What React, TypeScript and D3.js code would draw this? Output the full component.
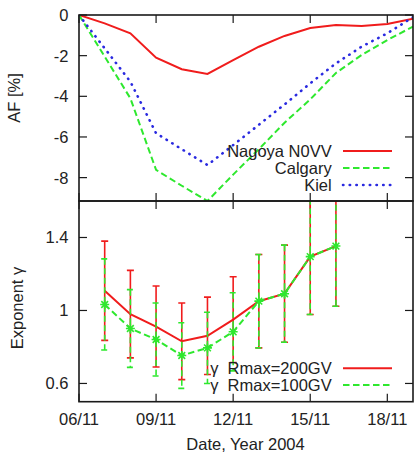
import React from "react";
import * as d3 from "d3";

// Daily decrease of count rate during the November 2004 Forbush event
const afDays = [6, 7, 8, 9, 10, 11, 12, 13, 14, 15, 16, 17, 18, 19];
const nagoyaAF = [0, -0.41, -0.9, -2.1, -2.67, -2.9, -2.22, -1.56, -1.03, -0.64, -0.49, -0.54, -0.44, -0.18];
const calgaryAF = [0, -2.05, -4.1, -7.62, -8.4, -9.15, -7.85, -6.6, -5.3, -4.15, -2.85, -1.97, -1.23, -0.57];
const kielAF = [0, -1.64, -3.28, -5.82, -6.6, -7.38, -6.4, -5.4, -4.4, -3.36, -2.38, -1.56, -0.9, -0.11];

// Spectral exponent with its uncertainty for two rigidity cut-offs
const gammaDays = [7, 8, 9, 10, 11, 12, 13, 14, 15, 16];
const gamma200 = [1.108, 0.98, 0.912, 0.831, 0.861, 0.95, 1.051, 1.092, 1.295, 1.353];
const err200 = [0.272, 0.24, 0.222, 0.21, 0.212, 0.235, 0.256, 0.266, 0.317, 0.33];
const gamma100 = [1.033, 0.901, 0.841, 0.753, 0.795, 0.883, 1.051, 1.092, 1.295, 1.353];
const err100 = [0.25, 0.213, 0.2, 0.18, 0.195, 0.214, 0.256, 0.266, 0.317, 0.33];

const dayTicks = [6, 9, 12, 15, 18];
const afTicks = [0, -2, -4, -6, -8];
const gammaTicks = [0.6, 1, 1.4];

const afSeries = [
  { name: "Nagoya N0VV", values: nagoyaAF, color: "#f01c1c", dash: "none", width: 2, cap: "butt" },
  { name: "Calgary", values: calgaryAF, color: "#2ee82e", dash: "6.5 3.5", width: 2, cap: "butt" },
  { name: "Kiel", values: kielAF, color: "#2a2ae0", dash: "0.4 6.3", width: 2.6, cap: "round" },
];

const FONT = "'Liberation Sans', Arial, sans-serif";
const FS = 16.5;
const AX = "#1a1a1a";
const TICK = 8;

const left = 79;
const right = 413;
const top1 = 15;
const mid = 201;
const bot2 = 401.7;

const dayLabel = (d: number) => `${String(d).padStart(2, "0")}/11`;

export default function App() {
  const x = d3.scaleLinear().domain([6, 19]).range([left, right]);
  const yAF = d3.scaleLinear().domain([-9.15, 0]).range([mid, top1]);
  const yG = d3.scaleLinear().domain([0.5, 1.6]).range([bot2, mid]);

  const afLine = (vals: number[]) =>
    d3.line<number>().x((_, i) => x(afDays[i])).y((v) => yAF(v))(vals) || "";
  const gLine = (vals: number[]) =>
    d3.line<number>().x((_, i) => x(gammaDays[i])).y((v) => yG(v))(vals) || "";

  const frame = (y0: number, y1: number, yTicks: number[], ys: (v: number) => number) => (
    <g>
      {dayTicks.map((d) => (
        <g key={"xt" + d}>
          <line x1={x(d)} x2={x(d)} y1={y0} y2={y0 + TICK} stroke={AX} strokeWidth={1.2} />
          <line x1={x(d)} x2={x(d)} y1={y1} y2={y1 - TICK} stroke={AX} strokeWidth={1.2} />
        </g>
      ))}
      {yTicks.map((t) => (
        <g key={"yt" + t}>
          <line x1={left} x2={left + TICK} y1={ys(t)} y2={ys(t)} stroke={AX} strokeWidth={1.2} />
          <line x1={right} x2={right - TICK} y1={ys(t)} y2={ys(t)} stroke={AX} strokeWidth={1.2} />
          <text x={68.5} y={ys(t)} dy="0.36em" textAnchor="end" fontSize={FS} fontFamily={FONT} fill="#222">
            {t === 0 ? "0" : String(t)}
          </text>
        </g>
      ))}
    </g>
  );

  const star = (cx: number, cy: number, r: number) =>
    `M${cx - r},${cy}H${cx + r}M${cx},${cy - r}V${cy + r}` +
    `M${cx - r * 0.75},${cy - r * 0.75}L${cx + r * 0.75},${cy + r * 0.75}` +
    `M${cx - r * 0.75},${cy + r * 0.75}L${cx + r * 0.75},${cy - r * 0.75}`;

  const errBars = (vals: number[], errs: number[], color: string, dash: string) =>
    vals.map((v, i) => {
      const cx = x(gammaDays[i]);
      const yt = yG(v + errs[i]);
      const yb = yG(v - errs[i]);
      return (
        <g key={i} stroke={color} strokeWidth={1.6} strokeDasharray={dash}>
          <line x1={cx} x2={cx} y1={yt} y2={yb} />
          <line x1={cx - 3.5} x2={cx + 3.5} y1={yt} y2={yt} />
          <line x1={cx - 3.5} x2={cx + 3.5} y1={yb} y2={yb} />
        </g>
      );
    });

  return (
    <svg
      width={419}
      height={455}
      style={{ position: "absolute", left: 0, top: 0, background: "#fff" }}
    >
      <defs>
        <clipPath id="clipTop">
          <rect x={left} y={top1} width={right - left} height={mid - top1} />
        </clipPath>
        <clipPath id="clipBot">
          <rect x={left} y={mid} width={right - left} height={bot2 - mid} />
        </clipPath>
      </defs>
      <rect width={419} height={455} fill="#fff" />

      {/* upper panel: AF */}
      {frame(top1, mid, afTicks, yAF)}
      <g clipPath="url(#clipTop)" fill="none">
        {afSeries.map((s) => (
          <path
            key={s.name}
            d={afLine(s.values)}
            stroke={s.color}
            strokeWidth={s.width}
            strokeDasharray={s.dash}
            strokeLinecap={s.cap as any}
          />
        ))}
      </g>
      {afSeries.map((s, i) => {
        const ly = 151 + i * 17;
        return (
          <g key={"lg" + s.name}>
            <text x={331.7} y={ly} dy="0.36em" textAnchor="end" fontSize={FS} fontFamily={FONT} fill="#222">
              {s.name}
            </text>
            <line
              x1={343}
              x2={392}
              y1={ly}
              y2={ly}
              stroke={s.color}
              strokeWidth={s.width}
              strokeDasharray={s.dash}
              strokeLinecap={s.cap as any}
            />
          </g>
        );
      })}

      {/* lower panel: spectral exponent */}
      {frame(mid, bot2, gammaTicks, yG)}
      <g clipPath="url(#clipBot)" fill="none">
        {errBars(gamma200, err200, "#f01c1c", "none")}
        <path d={gLine(gamma200)} stroke="#f01c1c" strokeWidth={2} />
        {errBars(gamma100, err100, "#2ee82e", "6 3.5")}
        <path d={gLine(gamma100)} stroke="#2ee82e" strokeWidth={2} strokeDasharray="6.5 3.5" />
        {gamma100.map((v, i) => (
          <path key={"m" + i} d={star(x(gammaDays[i]), yG(v), 4.5)} stroke="#2ee82e" strokeWidth={1.6} />
        ))}
      </g>
      {[
        { label: "γ  Rmax=200GV", color: "#f01c1c", dash: "none" },
        { label: "γ  Rmax=100GV", color: "#2ee82e", dash: "6.5 3.5" },
      ].map((s, i) => {
        const ly = 368.3 + i * 16.7;
        return (
          <g key={"lg2" + i}>
            <text
              x={331.7}
              y={ly}
              dy="0.36em"
              textAnchor="end"
              fontSize={FS}
              fontFamily={FONT}
              fill="#222"
              style={{ whiteSpace: "pre" }}
            >
              {s.label}
            </text>
            <line x1={343} x2={392} y1={ly} y2={ly} stroke={s.color} strokeWidth={2} strokeDasharray={s.dash} />
          </g>
        );
      })}

      {/* borders */}
      <rect x={left} y={top1} width={right - left} height={mid - top1} fill="none" stroke={AX} strokeWidth={1.6} />
      <rect x={left} y={mid} width={right - left} height={bot2 - mid} fill="none" stroke={AX} strokeWidth={1.6} />

      {/* x tick labels */}
      {dayTicks.map((d) => (
        <text key={"xl" + d} x={x(d)} y={425} textAnchor="middle" fontSize={FS} fontFamily={FONT} fill="#222">
          {dayLabel(d)}
        </text>
      ))}

      {/* axis titles */}
      <text x={245.5} y={450} textAnchor="middle" fontSize={FS} fontFamily={FONT} fill="#222">
        Date, Year 2004
      </text>
      <text
        transform="translate(14,98) rotate(-90)"
        dy="0.36em"
        textAnchor="middle"
        fontSize={FS}
        fontFamily={FONT}
        fill="#222"
      >
        AF [%]
      </text>
      <text
        transform="translate(17,308) rotate(-90)"
        dy="0.36em"
        textAnchor="middle"
        fontSize={FS}
        fontFamily={FONT}
        fill="#222"
      >
        Exponent γ
      </text>
    </svg>
  );
}
